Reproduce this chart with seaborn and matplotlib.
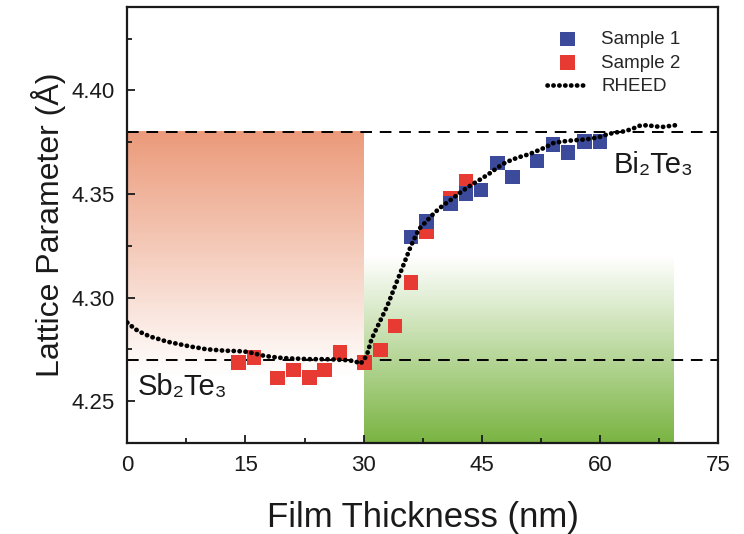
import numpy as np
import matplotlib
matplotlib.use("Agg")
import matplotlib.pyplot as plt
from matplotlib.colors import LinearSegmentedColormap
from matplotlib.ticker import MultipleLocator
import seaborn as sns

# -------- data --------
s1_x = [36.0, 38.0, 41.0, 43.0, 44.9, 47.0, 48.9, 52.0, 54.0, 55.9, 58.0, 60.0]
s1_y = [4.3293, 4.3366, 4.3454, 4.3502, 4.3520, 4.3649, 4.3583, 4.3660, 4.3740,
        4.3700, 4.3752, 4.3752]

s2_x = [14.1, 16.1, 19.1, 21.1, 23.1, 25.0, 27.0, 30.1, 32.1, 34.0, 36.0, 38.0,
        41.0, 43.0]
s2_y = [4.2687, 4.2711, 4.2612, 4.2650, 4.2614, 4.2650, 4.2735, 4.2687, 4.2747,
        4.2864, 4.3073, 4.3318, 4.3478, 4.3559]

rheed_x = [0, 1, 2, 3, 4, 5, 6, 7, 8, 9, 10, 11, 12, 13, 14, 15, 16, 17, 18, 19,
           20, 21, 22, 23, 24, 25, 26, 27, 28, 29, 29.5, 30, 30.5, 31, 32, 33, 34,
           35, 36, 37, 38, 39, 40, 41, 42, 43, 44, 45, 46, 47, 48, 49, 50, 51, 52,
           53, 54, 55, 56, 57, 58, 59, 60, 61, 62, 63, 64, 65, 66, 67, 68, 69, 70]
rheed_y = [4.2880, 4.2848, 4.2827, 4.2811, 4.2800, 4.2788, 4.2780, 4.2772, 4.2764,
           4.2758, 4.2751, 4.2748, 4.2745, 4.2743, 4.2742, 4.2739, 4.2732, 4.2722,
           4.2716, 4.2711, 4.2708, 4.2706, 4.2705, 4.2703, 4.2703, 4.2703, 4.2702,
           4.2700, 4.2698, 4.2692, 4.2680, 4.2695, 4.2735, 4.2800, 4.2880, 4.2960,
           4.3057, 4.3153, 4.3250, 4.3330, 4.3370, 4.3410, 4.3443, 4.3470, 4.3500,
           4.3527, 4.3552, 4.3575, 4.3600, 4.3628, 4.3652, 4.3668, 4.3681, 4.3692,
           4.3708, 4.3724, 4.3745, 4.3752, 4.3757, 4.3760, 4.3763, 4.3768, 4.3776,
           4.3789, 4.3797, 4.3802, 4.3813, 4.3829, 4.3832, 4.3826, 4.3824, 4.3829,
           4.3834]

a_bi2te3 = 4.38
a_sb2te3 = 4.27


def main():
    sns.set_theme(style="white")
    plt.rcParams["font.family"] = ["Liberation Sans", "DejaVu Sans"]

    fig = plt.figure(figsize=(7.44, 5.34), dpi=100)
    ax = fig.add_axes([0.171, 0.171, 0.7945, 0.815])

    # -------- shaded gradient regions --------
    grad = np.linspace(0, 1, 256).reshape(-1, 1)
    red_cmap = LinearSegmentedColormap.from_list("r", ["#ffffff", "#eb9a7a"])
    green_cmap = LinearSegmentedColormap.from_list("g", ["#ffffff", "#7ab442"])
    ax.imshow(grad, cmap=red_cmap, origin="lower", aspect="auto",
              extent=[0, 30, 4.262, a_bi2te3], zorder=0)
    ax.imshow(grad[::-1], cmap=green_cmap, origin="lower", aspect="auto",
              extent=[30, 69.3, 4.23, 4.32], zorder=0)

    # -------- reference lattice lines --------
    for yv in (a_bi2te3, a_sb2te3):
        ax.axhline(yv, color="black", lw=1.4, ls=(0, (6, 4)), zorder=1)

    # -------- data --------
    sns.scatterplot(x=s1_x, y=s1_y, marker="s", s=110, color="#3c4a9c",
                    edgecolor="none", ax=ax, zorder=3, label="Sample 1")
    sns.scatterplot(x=s2_x, y=s2_y, marker="s", s=110, color="#e63a32",
                    edgecolor="none", ax=ax, zorder=2, label="Sample 2")
    sns.lineplot(x=rheed_x, y=rheed_y, color="black", lw=3.4,
                 ls=(0, (0.05, 1.2)), dash_capstyle="round", ax=ax, zorder=4,
                 label="RHEED")

    ax.set_xlim(0, 75)
    ax.set_ylim(4.23, 4.44)
    ax.xaxis.set_major_locator(MultipleLocator(15))
    ax.xaxis.set_minor_locator(MultipleLocator(7.5))
    ax.yaxis.set_major_locator(MultipleLocator(0.05))
    ax.yaxis.set_minor_locator(MultipleLocator(0.025))
    ax.yaxis.set_major_formatter(matplotlib.ticker.FormatStrFormatter("%.2f"))
    ax.tick_params(which="both", direction="in", bottom=True, left=True,
                   top=False, right=False, labelsize=16, colors="#1a1a1a",
                   labelcolor="#1a1a1a", width=1.3, pad=9)
    ax.tick_params(which="major", length=6)
    ax.tick_params(which="minor", length=3.5)
    for sp in ax.spines.values():
        sp.set_color("#1a1a1a")
        sp.set_linewidth(1.6)

    ax.set_xlabel("Film Thickness (nm)", fontsize=25, color="#1a1a1a", labelpad=18)
    ax.set_ylabel("Lattice Parameter (Å)", fontsize=23, color="#1a1a1a", labelpad=4)

    ax.text(66.8, 4.364, "Bi₂Te₃", fontsize=21, ha="center", va="center",
            color="#1a1a1a")
    ax.text(7.0, 4.257, "Sb₂Te₃", fontsize=21, ha="center", va="center",
            color="#1a1a1a")

    handles, labels = ax.get_legend_handles_labels()
    ax.legend(handles, labels, loc="upper right", bbox_to_anchor=(0.965, 0.985),
              frameon=False, fontsize=13.5, handlelength=2.2, handletextpad=0.7,
              labelspacing=0.35, markerscale=1.0)

    fig.savefig("out.png", dpi=100)
    plt.close(fig)


if __name__ == "__main__":
    main()
